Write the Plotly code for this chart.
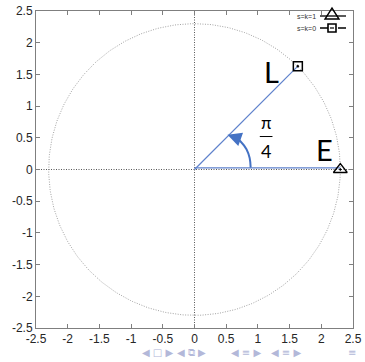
import numpy as np
import plotly.graph_objects as go

# ---- data ----
radius = 2.3
point_L = (1.63, 1.63)
point_E = (2.3, 0.0)
tick_vals = [-2.5, -2, -1.5, -1, -0.5, 0, 0.5, 1, 1.5, 2, 2.5]
tick_text = ["-2.5", "-2", "-1.5", "-1", "-0.5", "0", "0.5", "1", "1.5", "2", "2.5"]
arc_x = [0.886, 0.87, 0.82, 0.72, 0.66]
arc_y = [0.03, 0.18, 0.32, 0.45, 0.50]
legend_names = ["s=k=1", "s=k=0"]
nav_groups = ["◀ □ ▶", "◀ ⧉ ▶", "◀ ≡ ▶", "◀ ≡ ▶", "≡"]
nav_x = [140, 191, 246, 303, 358]

BLUE = "#4472C4"
RAY = "#5f82cc"

W, H = 365, 362
ML, MR, MT, MB = 36, 12, 11, 34

fig = go.Figure()

# circle
t = np.linspace(0, 2 * np.pi, 361)
fig.add_trace(go.Scatter(x=radius * np.cos(t), y=radius * np.sin(t), mode="lines",
                         line=dict(color="#8a8a8a", width=0.8, dash="1px,1.5px"), hoverinfo="skip"))
# axes dotted lines
fig.add_trace(go.Scatter(x=[tick_vals[0], tick_vals[-1]], y=[0, 0], mode="lines",
                         line=dict(color="#444444", width=0.9, dash="1px,1.5px")))
fig.add_trace(go.Scatter(x=[0, 0], y=[tick_vals[0], tick_vals[-1]], mode="lines",
                         line=dict(color="#444444", width=0.9, dash="1px,1.5px")))
# blue rays
fig.add_trace(go.Scatter(x=[0, point_L[0]], y=[0, point_L[1]], mode="lines",
                         line=dict(color=RAY, width=1.2)))
fig.add_trace(go.Scatter(x=[0, point_E[0]], y=[0.025, 0.025], mode="lines",
                         line=dict(color=RAY, width=1.2)))
# arc
fig.add_trace(go.Scatter(x=arc_x, y=arc_y, mode="lines", line=dict(color=BLUE, width=2, shape="spline")))
# markers
fig.add_trace(go.Scatter(x=[point_L[0]], y=[point_L[1]], mode="markers",
                         marker=dict(symbol="square-open-dot", size=9, color="black", line=dict(width=1.5))))
fig.add_trace(go.Scatter(x=[point_E[0]], y=[point_E[1]], mode="markers",
                         marker=dict(symbol="triangle-up-open-dot", size=12, color="black", line=dict(width=1.3))))

# arrowhead
fig.add_annotation(x=0.52, y=0.55, ax=arc_x[-1], ay=arc_y[-1], xref="x", yref="y", axref="x", ayref="y",
                   showarrow=True, arrowhead=2, arrowsize=1.4, arrowwidth=2, arrowcolor=BLUE, text="")

# labels
fig.add_annotation(x=1.22, y=1.55, text="L", showarrow=False, font=dict(size=29, color="black", family="Lato"))
fig.add_annotation(x=2.05, y=0.32, text="E", showarrow=False, font=dict(size=29, color="black", family="Lato"))
fig.add_annotation(x=1.135, y=0.74, text="π", showarrow=False, font=dict(size=17, color="black", family="Lato"))
fig.add_annotation(x=1.135, y=0.29, text="4", showarrow=False, font=dict(size=18, color="black", family="Lato"))
fig.add_shape(type="line", x0=1.03, x1=1.23, y0=0.52, y1=0.52, line=dict(color="black", width=1))

# custom legend (paper coords: plot domain 36..353 px wide, 11..328 px tall)
def px(xp):
    return (xp - 36) / 317.0
def py(yp):
    return (328 - yp) / 317.0

for i, name in enumerate(legend_names):
    yy = 16 + 12 * i
    fig.add_annotation(x=px(318), y=py(yy), xref="paper", yref="paper", text=name, showarrow=False,
                       xanchor="right", yanchor="middle",
                       font=dict(size=7, color="#333333", family="Liberation Sans"))
    fig.add_shape(type="line", xref="paper", yref="paper", x0=px(320), x1=px(346), y0=py(yy), y1=py(yy),
                  line=dict(color="black", width=1.3, dash="solid" if i == 0 else "dash"))
# triangle glyph
fig.add_shape(type="path", xref="paper", yref="paper",
              path=f"M {px(325)},{py(19)} L {px(339)},{py(19)} L {px(332)},{py(8)} Z",
              line=dict(color="black", width=1.4), fillcolor="rgba(0,0,0,0)")
fig.add_shape(type="rect", xref="paper", yref="paper", x0=px(328), x1=px(336), y0=py(32), y1=py(24),
              line=dict(color="black", width=1.6), fillcolor="white")
fig.add_shape(type="line", xref="paper", yref="paper", x0=px(330), x1=px(334), y0=py(28), y1=py(28),
              line=dict(color="black", width=1.2))

# beamer nav symbols
for s, xp in zip(nav_groups, nav_x):
    fig.add_annotation(x=px(xp), y=py(352), xref="paper", yref="paper", text=s, yanchor="middle",
                       showarrow=False, font=dict(size=10, color="#b3b8d9", family="DejaVu Sans"))

axis_common = dict(range=[-2.5, 2.5], tickvals=tick_vals, ticktext=tick_text, showgrid=False,
                   zeroline=False, showline=True, linecolor="#7f7f7f", linewidth=1, mirror="ticks",
                   ticks="inside", ticklen=4, tickcolor="#7f7f7f", automargin=False,
                   tickfont=dict(size=12, color="#262626", family="Liberation Sans"))
fig.update_xaxes(**axis_common)
fig.update_yaxes(**axis_common)
fig.update_layout(width=W, height=H, margin=dict(l=ML, r=MR, t=MT, b=MB),
                  showlegend=False, plot_bgcolor="white", paper_bgcolor="white")
fig.write_html("out.html", config={"displayModeBar": False},
               post_script="document.body.style.margin='0';")
